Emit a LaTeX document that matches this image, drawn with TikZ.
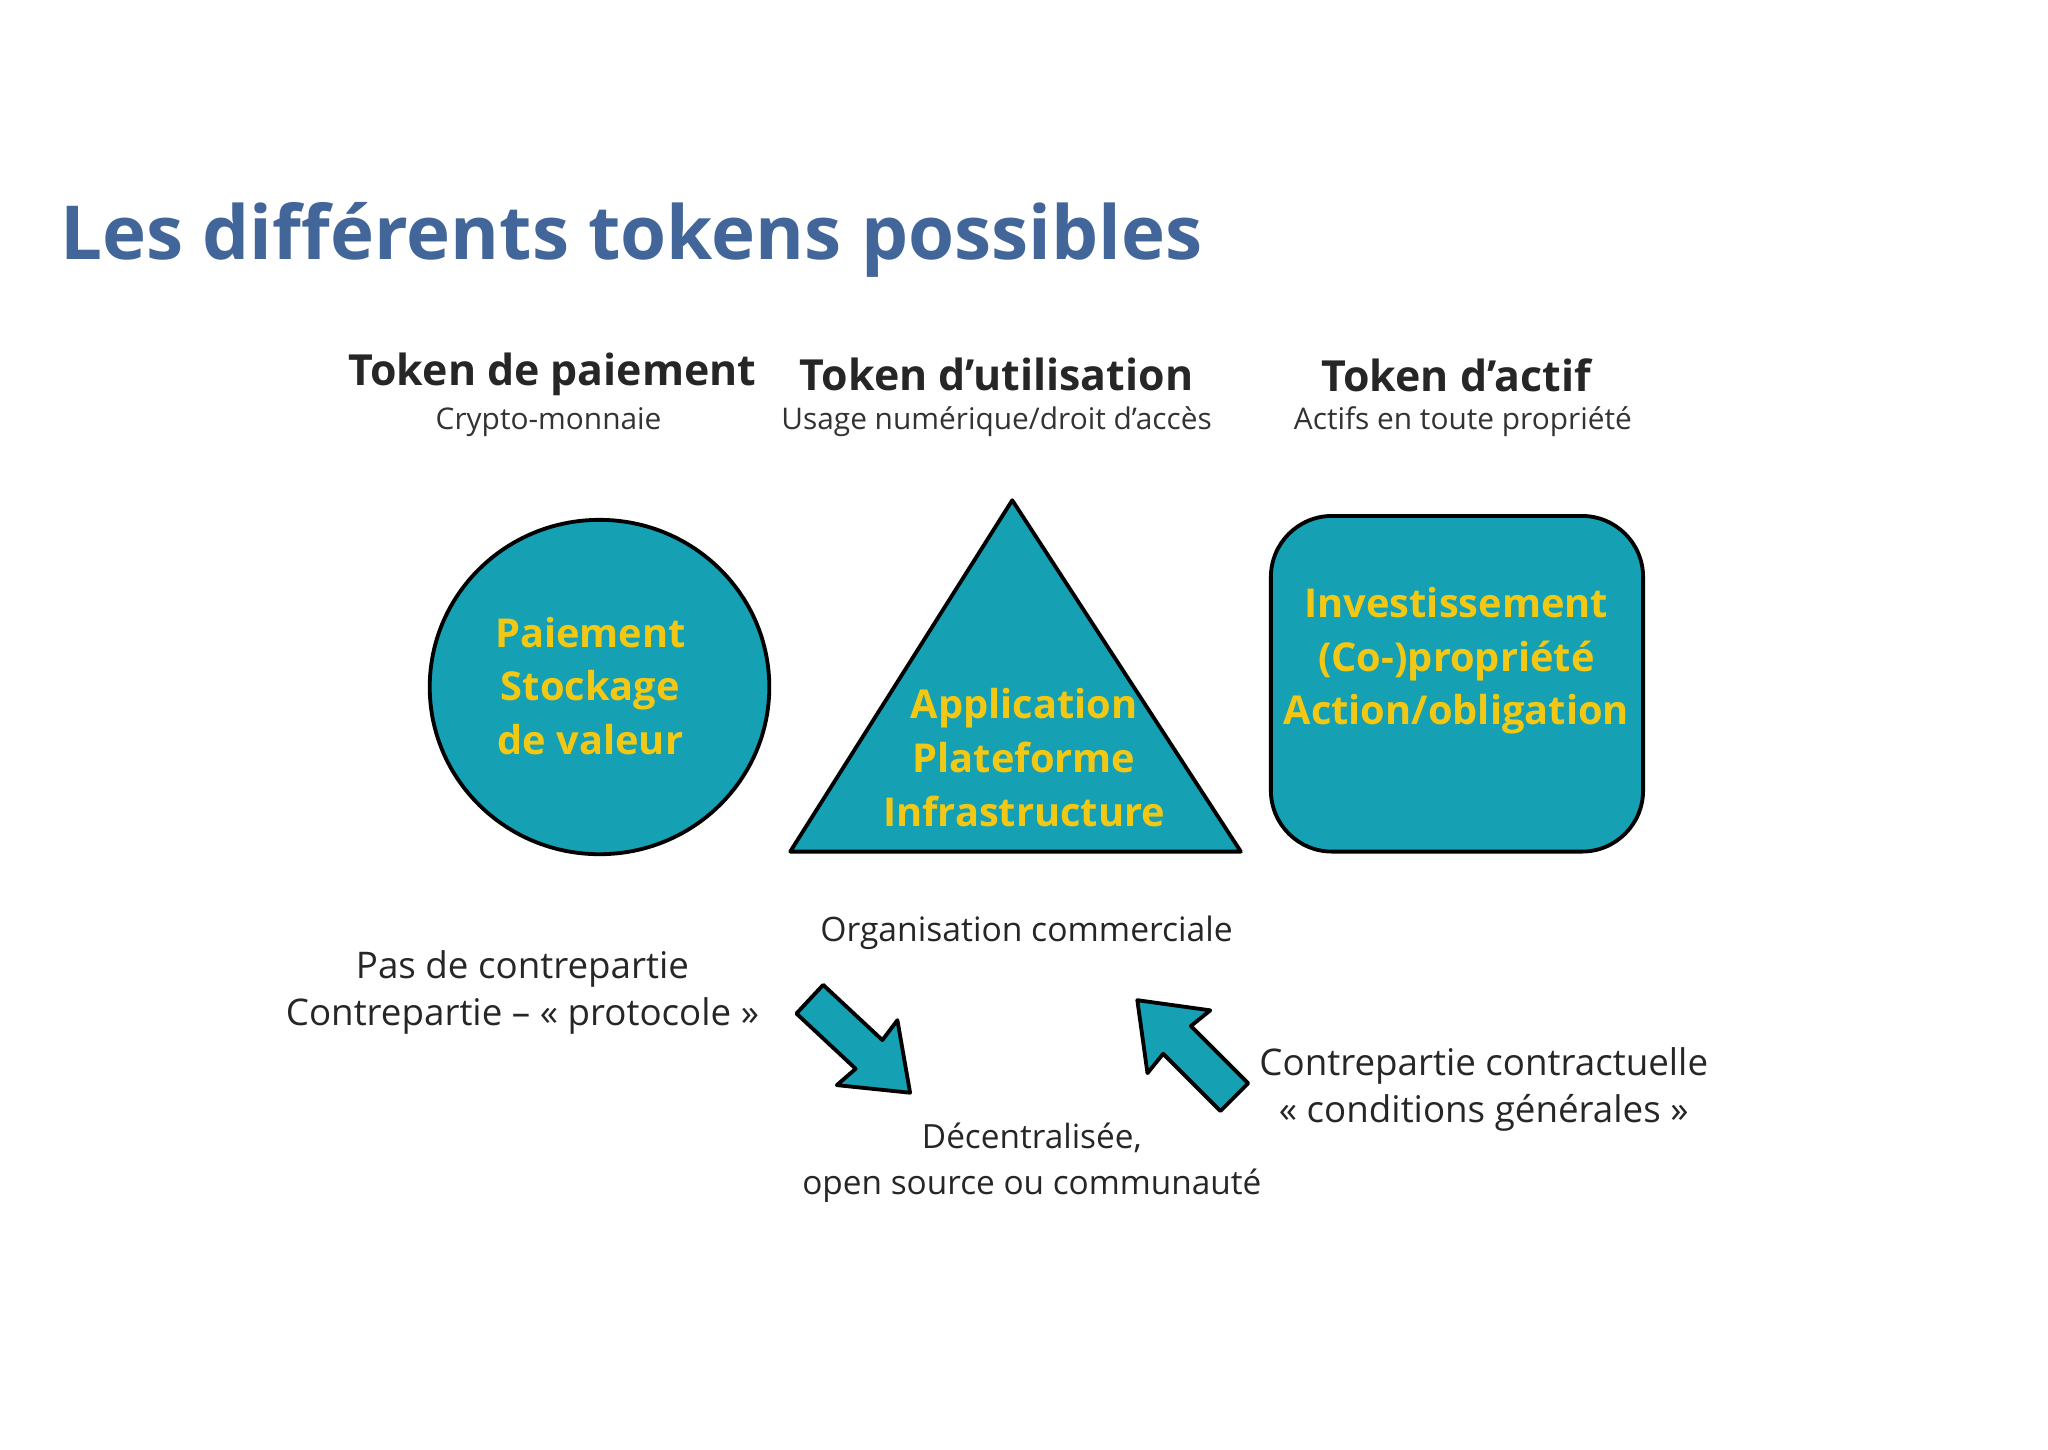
\documentclass[tikz,border=0pt]{standalone}
\usepackage{fontspec}
\setmainfont{Open Sans}
\begin{document}
\begin{tikzpicture}[x=0.03cm,y=-0.03cm,
  teal/.style={fill=tealc,draw=black,line width=2.5pt,line join=round},
  head/.style={font=\fontsize{28}{32}\selectfont\bfseries,text=black!85},
  sub/.style={font=\fontsize{19.5}{23}\selectfont,text=black!80},
  inner/.style={font=\fontsize{26}{35}\selectfont\bfseries,text=yel,align=center},
  lab/.style={font=\fontsize{24}{31}\selectfont,text=black!85,align=center}]
\definecolor{tealc}{RGB}{22,160,180}
\definecolor{yel}{RGB}{242,200,20}
\definecolor{titleblue}{RGB}{66,102,153}
\useasboundingbox (0,0) rectangle (1568,1110);
\node[anchor=west,font=\fontsize{48.7}{52}\selectfont\bfseries,text=titleblue] (title) at (42,184) {Les différents tokens possibles};
\node[head] (h1) at (423,287) {Token de paiement};
\node[sub] (s1) at (420,323) {Crypto-monnaie};
\node[head] (h2) at (763,287) {Token d’utilisation};
\node[sub] (s2) at (763,323) {Usage numérique/droit d’accès};
\node[head] (h3) at (1115,287) {Token d’actif};
\node[sub] (s3) at (1120,323) {Actifs en toute propriété};
\draw[teal] (459,526) ellipse (130 and 128);
\draw[teal] (775,383) -- (950,652) -- (605,652) -- cycle;
\draw[teal,rounded corners=40] (973,395) rectangle (1258,652);
\node[inner] (c1) at (452,525) {Paiement\\Stockage\\de valeur};
\node[inner] (c2) at (784,580) {Application\\Plateforme\\Infrastructure};
\node[inner] (c3) at (1115,506) {Investissement\\(Co-)propriété\\Action/obligation};
\node[lab,font=\fontsize{22}{30}\selectfont] (o1) at (786,714) {Organisation commerciale};
\node[lab] (o2) at (400,760) {Pas de contrepartie\\Contrepartie – « protocole »};
\node[lab] (o3) at (1136,834) {Contrepartie contractuelle\\« conditions générales »};
\node[lab,font=\fontsize{21.8}{30}\selectfont] (o4) at (790,890) {Décentralisée,\\open source ou communauté};
\begin{scope}[shift={(620,765)},rotate=-43]
\draw[teal] (0,-15) -- (62,-15) -- (60,-34) -- (105,0) -- (60,34) -- (62,15) -- (0,15) -- cycle;
\end{scope}
\begin{scope}[shift={(945,840)},rotate=135]
\draw[teal] (0,-15) -- (62,-15) -- (60,-34) -- (105,0) -- (60,34) -- (62,15) -- (0,15) -- cycle;
\end{scope}
\end{tikzpicture}
\end{document}
